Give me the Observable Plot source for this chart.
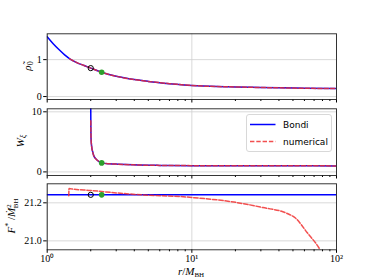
<!DOCTYPE html>
<html><head><meta charset="utf-8">
<script src="https://cdn.jsdelivr.net/npm/d3@7"></script>
<script src="https://cdn.jsdelivr.net/npm/@observablehq/plot@0.6"></script>
<style>
body{margin:0;background:#fff}
#c{position:relative;width:374px;height:280px;font-family:"Liberation Serif",serif}
#c > svg{position:absolute;left:0}
#legend{position:absolute;left:245.7px;top:114px;width:84px;height:36px;border:1px solid #d8d8d8;border-radius:3px;background:rgba(255,255,255,0.85);font-family:"DejaVu Sans",sans-serif;font-size:9px}
</style></head><body><div id="c"></div>
<script>
// ---- data ----
const bondiR   = [1, 1.1, 1.2, 1.32, 1.45, 1.6, 1.8, 2, 2.37, 3, 4, 5, 7, 10, 15, 20, 30, 41, 60, 100];
const bondiRho = [1.62, 1.43, 1.28, 1.13, 1.01, 0.92, 0.84, 0.77, 0.66, 0.55, 0.46, 0.41, 0.35, 0.30, 0.27, 0.26, 0.245, 0.235, 0.225, 0.216];
const numR     = [1.43, 1.6, 1.8, 2, 2.37, 3, 4, 5, 7, 10, 15, 20, 30, 41, 60, 100];
const numRho   = [1.02, 0.92, 0.84, 0.77, 0.66, 0.55, 0.46, 0.41, 0.35, 0.30, 0.27, 0.26, 0.245, 0.235, 0.225, 0.216];

const bondiWR  = [2.0, 2.003, 2.01, 2.03, 2.06, 2.1, 2.22, 2.38, 2.7, 3.1, 3.95, 6, 10, 20, 50, 100];
const bondiW   = [11, 8, 5.5, 4.2, 3.4, 2.67, 1.95, 1.5, 1.35, 1.28, 1.17, 1.08, 1.04, 1.02, 1.01, 1.0];
const numWR    = [2.002, 2.003, 2.01, 2.03, 2.06, 2.1, 2.22, 2.38, 2.7, 3.1, 3.95, 6, 10, 20, 50, 100];
const numW     = [8.5, 8, 5.5, 4.2, 3.4, 2.67, 1.95, 1.5, 1.35, 1.28, 1.17, 1.08, 1.04, 1.02, 1.01, 1.0];

const bondiFR  = [1, 100];
const bondiF   = [21.242, 21.242];
const numFR    = [1.41, 1.415, 1.5, 2, 3, 5, 8.3, 10, 19.5, 31, 45.6, 52, 62.6, 76.6, 80];
const numF     = [21.237, 21.275, 21.272, 21.265, 21.252, 21.24, 21.233, 21.228, 21.204, 21.175, 21.144, 21.12, 21.044, 20.956, 20.93];

const horizonR = 2;      // black open circle
const sonicR   = 2.38;   // green dot
const rhoHorizon = 0.77, rhoSonic = 0.657;
const wSonic = 1.5;
const fHorizon = 21.242, fSonic = 21.242;

const xMajor = [1, 10, 100];
const xMinor = [2,3,4,5,6,7,8,9,20,30,40,50,60,70,80,90];
const xLabels = {1: "10⁰", 10: "10¹", 100: "10²"};
const legendLabels = ["Bondi", "numerical"];

// ---- helpers ----
const zip = (xs, ys) => xs.map((x, i) => ({x, y: ys[i]}));
const BLUE = "blue", RED = "#f03030", GREEN = "#2ca02c";
const ML = 46.7, MR = 38;

function panel({top, height, mt, mb, yDomain, yTicks, yFmt, bondi, num, black, green, bottom}) {
  const marks = [
    Plot.gridY(yTicks, {stroke: "#cfcfcf", strokeOpacity: 1, strokeWidth: 0.8}),
    Plot.gridX(xMajor, {stroke: "#cfcfcf", strokeOpacity: 1, strokeWidth: 0.8}),
    Plot.line(bondi, {x: "x", y: "y", stroke: BLUE, strokeWidth: 1.5, clip: true, curve: "monotone-x"}),
    Plot.line(num, {x: "x", y: "y", stroke: RED, strokeOpacity: 0.85, strokeWidth: 1.5, strokeDasharray: "4.4,1.9", clip: true, curve: "monotone-x"}),
  ];
  if (black) marks.push(Plot.dot(black, {x: "x", y: "y", r: 2.6, stroke: "black", strokeWidth: 1, fill: "none"}));
  if (green) marks.push(Plot.dot(green, {x: "x", y: "y", r: 2.8, fill: GREEN, stroke: "none"}));
  marks.push(
    Plot.axisY(yTicks, {tickSize: 3.5, tickPadding: 2, tickFormat: yFmt, label: null, fontSize: 10}),
    Plot.axisX(xMinor, {tickSize: 2, tickFormat: () => "", label: null}),
    Plot.axisX(xMajor, {tickSize: 3.5, tickPadding: 2, tickFormat: bottom ? (d => xLabels[d]) : () => "", label: null, fontSize: 10}),
    Plot.frame({stroke: "#222", strokeWidth: 0.9})
  );
  const svg = Plot.plot({
    width: 374, height,
    marginLeft: ML, marginRight: MR, marginTop: mt, marginBottom: mb,
    x: {type: "log", domain: [1, 100]},
    y: {domain: yDomain},
    style: {fontFamily: "Liberation Serif, serif", fontSize: "10px", background: "transparent", overflow: "visible", color: "black"},
    marks
  });
  svg.style.top = top + "px";
  return svg;
}

const c = document.getElementById("c");
c.appendChild(panel({
  top: 0, height: 103, mt: 33.3, mb: 4,
  yDomain: [-0.08, 1.70], yTicks: [0, 1], yFmt: d3.format("d"),
  bondi: zip(bondiR, bondiRho), num: zip(numR, numRho),
  black: [{x: horizonR, y: rhoHorizon}], green: [{x: sonicR, y: rhoSonic}], bottom: false
}));
c.appendChild(panel({
  top: 103, height: 76, mt: 5.3, mb: 4,
  yDomain: [-0.6, 10.5], yTicks: [0, 10], yFmt: d3.format("d"),
  bondi: zip(bondiWR, bondiW), num: zip(numWR, numW),
  black: null, green: [{x: sonicR, y: wSonic}], bottom: false
}));
c.appendChild(panel({
  top: 179, height: 101, mt: 4.3, mb: 30.7,
  yDomain: [20.953, 21.30], yTicks: [21.0, 21.2], yFmt: d3.format(".1f"),
  bondi: zip(bondiFR, bondiF), num: zip(numFR, numF),
  black: [{x: horizonR, y: fHorizon}], green: [{x: sonicR, y: fSonic}], bottom: true
}));

// ---- axis labels (overlay) ----
const ov = d3.select(c).append("svg").attr("width", 374).attr("height", 280)
  .style("top", "0px").style("pointer-events", "none")
  .style("font-family", "Liberation Serif, serif").style("font-size", "11px");

const l1 = ov.append("text").attr("transform", "translate(31,66) rotate(-90)").attr("text-anchor", "middle");
l1.append("tspan").attr("font-style", "italic").text("ρ̃");
l1.append("tspan").attr("font-size", "8px").attr("dy", 2).text("0");

const l2 = ov.append("text").attr("transform", "translate(24,141) rotate(-90)").attr("text-anchor", "middle");
l2.append("tspan").attr("font-style", "italic").text("W");
l2.append("tspan").attr("font-size", "8px").attr("dy", 2).attr("font-style", "italic").text("ξ");

const l3 = ov.append("text").attr("transform", "translate(15,216) rotate(-90)").attr("text-anchor", "middle");
l3.append("tspan").attr("font-style", "italic").text("F");
l3.append("tspan").attr("font-size", "8px").attr("dy", -4).text("*");
l3.append("tspan").attr("dy", 4).text(" /");
l3.append("tspan").attr("font-style", "italic").text("Ṁ");
l3.append("tspan").attr("font-size", "7px").attr("dy", -4).text("2");
l3.append("tspan").attr("font-size", "7px").attr("dx", -4).attr("dy", 7).text("BH");

const lx = ov.append("text").attr("x", 191).attr("y", 275).attr("text-anchor", "middle");
lx.append("tspan").attr("font-style", "italic").text("r");
lx.append("tspan").text("/");
lx.append("tspan").attr("font-style", "italic").text("M");
lx.append("tspan").attr("font-size", "7px").attr("dy", 2).text("BH");

// ---- legend ----
const lg = d3.select(c).append("div").attr("id", "legend");
const ls = lg.append("svg").attr("width", 84).attr("height", 36).style("position", "absolute").style("left", 0).style("top", 0);
ls.append("line").attr("x1", 3).attr("x2", 28.5).attr("y1", 9.5).attr("y2", 9.5).attr("stroke", BLUE).attr("stroke-width", 1.5);
ls.append("line").attr("x1", 3).attr("x2", 28.5).attr("y1", 26.5).attr("y2", 26.5).attr("stroke", RED).attr("stroke-opacity", 0.85).attr("stroke-width", 1.5).attr("stroke-dasharray", "4.4,1.9");
ls.append("text").attr("x", 36).attr("y", 12.8).attr("font-family", "DejaVu Sans, sans-serif").attr("font-size", 9).text(legendLabels[0]);
ls.append("text").attr("x", 36).attr("y", 29.8).attr("font-family", "DejaVu Sans, sans-serif").attr("font-size", 9).text(legendLabels[1]);
</script></body></html>
